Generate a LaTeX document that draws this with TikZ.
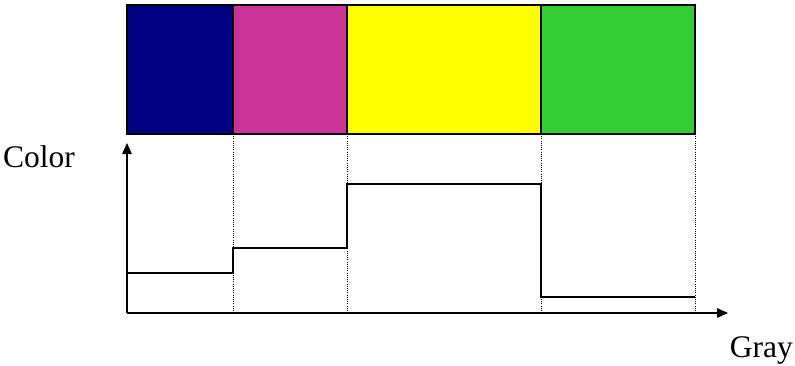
\documentclass[tikz,border=0pt]{standalone}
\usepackage{fontspec}
\setmainfont{Liberation Serif}
\usetikzlibrary{arrows.meta}
\definecolor{cnavy}{HTML}{000080}
\definecolor{cmag}{HTML}{CC3399}
\definecolor{cyel}{HTML}{FFFF00}
\definecolor{cgrn}{HTML}{33CC33}
\begin{document}
\begin{tikzpicture}[x=1pt,y=-1pt,
  block/.style={draw=black,line width=1.6pt},
  axis/.style={line width=1.3pt,-{Triangle[length=11pt,width=9.5pt]}},
  stepline/.style={line width=1.3pt},
  guide/.style={line width=0.9pt,dash pattern=on 1pt off 1.2pt},
  lbl/.style={font=\fontsize{31.5}{34}\selectfont,inner sep=0pt}]
\useasboundingbox (0,0) rectangle (795,365);
% colour blocks
\path[block,fill=cnavy] (127,5) rectangle (233,134);
\path[block,fill=cmag] (233,5) rectangle (347,134);
\path[block,fill=cyel] (347,5) rectangle (541,134);
\path[block,fill=cgrn] (541,5) rectangle (695,134);
% guides
\coordinate (o) at (127,313);
\coordinate (ytip) at (127,143);
\coordinate (xtip) at (728,313);
\foreach \x in {233,347,541,695} \draw[guide] (\x,134) -- (\x,313);
% axes
\draw[axis] (o) -- (ytip);
\draw[axis] (o) -- (xtip);
% step
\draw[stepline] (127,273) -- (233,273) -- (233,248) -- (347,248) -- (347,184) -- (541,184) -- (541,297) -- (695,297);
\node[lbl,anchor=base west] (color) at (3,167) {Color};
\node[lbl,anchor=base east] (gray) at (793,357) {Gray};
\end{tikzpicture}
\end{document}
